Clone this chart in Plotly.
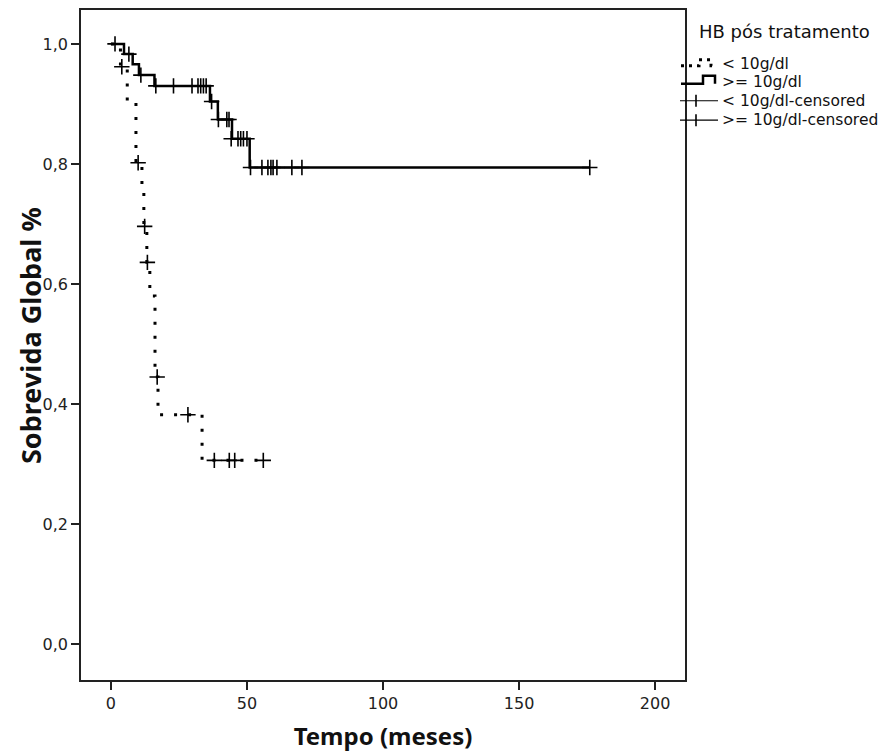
import plotly.graph_objects as go

# Kaplan-Meier step data
low_times = [0, 3.5, 6.0, 9.2, 11.4, 12.1, 13.2, 14.3, 16.2, 17.3, 33.5, 56]
low_surv = [1.0, 0.962, 0.904, 0.802, 0.755, 0.696, 0.636, 0.580, 0.445, 0.382, 0.306, 0.306]

high_times = [0, 4.8, 8.0, 10.3, 16.0, 36.4, 39.3, 44.5, 51.0, 176]
high_surv = [1.0, 0.983, 0.966, 0.948, 0.930, 0.904, 0.874, 0.842, 0.794, 0.794]

# censored observations
low_cens_t = [4.0, 10.0, 12.4, 13.4, 17.0, 28.3, 38.0, 43.5, 45.5, 56]
low_cens_s = [0.962, 0.802, 0.696, 0.636, 0.445, 0.382, 0.306, 0.306, 0.306, 0.306]

high_cens_t = [1.5, 6.6, 11.0, 16.5, 23.0, 29.8, 32.0, 33.0, 34.0, 35.0, 37.0, 39.5,
               42.6, 43.4, 44.2, 46.7, 47.7, 48.7, 50.0, 51.3, 55.5, 57.7, 58.8,
               59.6, 61.0, 66.5, 70.2, 176]
high_cens_s = [1.0, 0.983, 0.948, 0.930, 0.930, 0.930, 0.930, 0.930, 0.930, 0.930,
               0.904, 0.874, 0.874, 0.874, 0.842, 0.842, 0.842, 0.842, 0.842, 0.794,
               0.794, 0.794, 0.794, 0.794, 0.794, 0.794, 0.794, 0.794]

series_names = ["&lt; 10g/dl", "&gt;= 10g/dl", "&lt; 10g/dl-censored", "&gt;= 10g/dl-censored"]
legend_title = "HB pós tratamento"
x_title = "Tempo (meses)"
y_title = "Sobrevida Global %"
x_ticks = [0, 50, 100, 150, 200]
y_ticks = [0.0, 0.2, 0.4, 0.6, 0.8, 1.0]

fig = go.Figure()
fig.add_trace(go.Scatter(x=low_times, y=low_surv, mode="lines", name=series_names[0],
                         line=dict(shape="hv", color="black", width=3, dash="3px,11px")))
fig.add_trace(go.Scatter(x=high_times, y=high_surv, mode="lines", name=series_names[1],
                         line=dict(shape="hv", color="black", width=2.5)))
cross = dict(symbol="cross-thin", size=11, line=dict(width=1.6, color="black"), color="black")
fig.add_trace(go.Scatter(x=low_cens_t, y=low_cens_s, mode="markers", name=series_names[2],
                         marker=cross))
fig.add_trace(go.Scatter(x=high_cens_t, y=high_cens_s, mode="markers", name=series_names[3],
                         marker=cross))

# ---- layout helpers: pixel position (in the page) -> paper coordinates ----
PL, PR, PT, PB = 81, 685, 8, 680


def px(xp):
    return (xp - PL) / (PR - PL)


def py(yp):
    return (PB - yp) / (PB - PT)


annotations = [
    dict(text=legend_title, x=px(697), y=py(30), xref="paper", yref="paper",
         xanchor="left", yanchor="middle", showarrow=False,
         font=dict(family="DejaVu Sans", size=18, color="#111")),
    dict(text="<b>" + y_title + "</b>", x=px(30), y=py(335), xref="paper", yref="paper",
         xanchor="center", yanchor="middle", showarrow=False, textangle=-90,
         font=dict(family="Noto Sans", size=27, color="#111")),
]
row_y = [62.5, 80.5, 99.0, 118.5]
for name, ry in zip(series_names, row_y):
    annotations.append(dict(text=name, x=px(720), y=py(ry), xref="paper", yref="paper",
                            xanchor="left", yanchor="middle", showarrow=False,
                            font=dict(family="DejaVu Sans", size=15.5, color="#111")))


def path(points):
    s = "M " + " L ".join(f"{px(a):.5f},{py(b):.5f}" for a, b in points)
    return s


shapes = [
    # dotted step icon
    dict(type="path", xref="paper", yref="paper",
         path=path([(681, 64), (699, 64), (699, 58), (711, 58), (711, 64), (717, 64)]),
         line=dict(color="black", width=3, dash="3px,5px")),
    # solid step icon
    dict(type="path", xref="paper", yref="paper",
         path=path([(681, 82), (703, 82), (703, 74), (715, 74), (715, 82)]),
         line=dict(color="black", width=2.5)),
]
for ry in row_y[2:]:
    shapes.append(dict(type="line", xref="paper", yref="paper", x0=px(680), x1=px(718),
                       y0=py(ry), y1=py(ry), line=dict(color="black", width=1.2)))
    shapes.append(dict(type="line", xref="paper", yref="paper", x0=px(696), x1=px(696),
                       y0=py(ry - 6), y1=py(ry + 6), line=dict(color="black", width=1.6)))

tick_font = dict(family="DejaVu Sans", size=16, color="#222")

fig.update_layout(
    width=879, height=748,
    margin=dict(l=73, r=202, t=0, b=76),
    paper_bgcolor="white", plot_bgcolor="white",
    separators=",.",
    showlegend=False,
    annotations=annotations,
    shapes=shapes,
)
fig.update_xaxes(range=[-11, 211], tickvals=x_ticks, ticks="outside", ticklen=8, tickwidth=1.5,
                 tickcolor="#222", showline=True, linecolor="#222", linewidth=1.5, mirror=True,
                 showgrid=False, zeroline=False, tickfont=tick_font,
                 title=dict(text="<b>" + x_title + "</b>",
                            font=dict(family="Noto Sans", size=24, color="#111"), standoff=16))
fig.update_yaxes(range=[-0.06, 1.0565], tickvals=y_ticks, tickformat=".1f", ticks="outside",
                 ticklen=8, tickwidth=1.5, tickcolor="#222", showline=True, linecolor="#222",
                 linewidth=1.5, mirror=True, showgrid=False, zeroline=False, tickfont=tick_font)

fig.write_html("out.html")
